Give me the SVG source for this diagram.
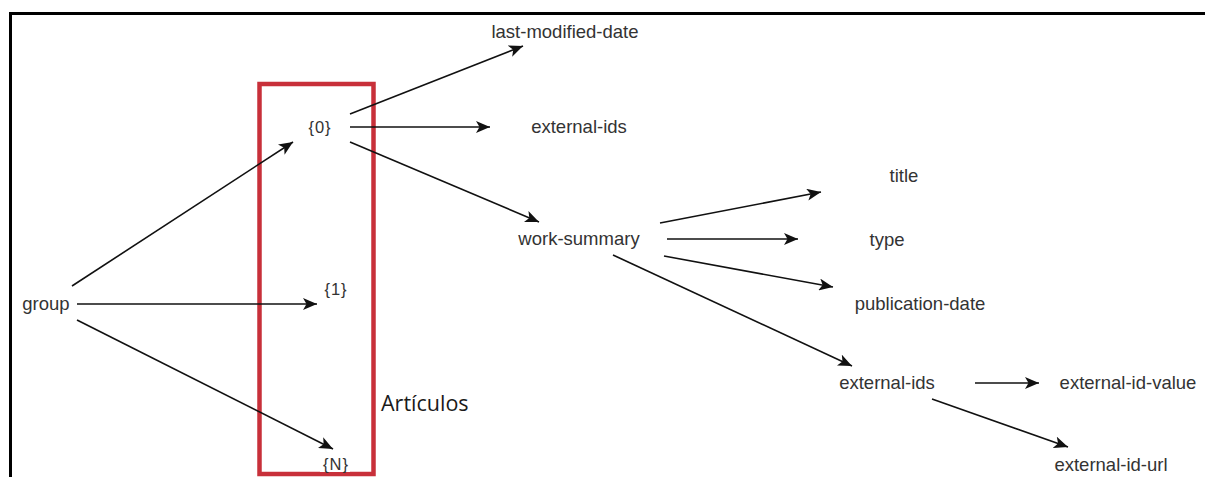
<svg xmlns="http://www.w3.org/2000/svg" width="1205" height="477" viewBox="0 0 1205 477">
<defs>
<style>
.lbl{font-family:"Liberation Sans",Arial,sans-serif;font-size:18.5px;fill:#333;text-anchor:middle}
.idx{font-family:"Liberation Sans",Arial,sans-serif;font-size:16.5px;fill:#333;text-anchor:middle;letter-spacing:1px}
.edge{stroke:#111;stroke-width:1.6;fill:none;marker-end:url(#arr)}
</style>
<marker id="arr" markerUnits="userSpaceOnUse" markerWidth="15" markerHeight="12" refX="14" refY="6" orient="auto">
<path d="M0,0 L14,6 L0,12 L3.5,6 Z" fill="#111"/>
</marker>
</defs>
<rect x="0" y="0" width="1205" height="477" fill="#fff"/>
<g id="frame">
<line x1="10.5" y1="13.5" x2="1205" y2="13.5" stroke="#000" stroke-width="3"/>
<line x1="10.5" y1="12" x2="10.5" y2="477" stroke="#000" stroke-width="3"/>
</g>
<g id="articulos-box">
<rect x="259.5" y="84" width="114" height="390" fill="none" stroke="#c8303a" stroke-width="4.5"/>
<text x="381" y="411" font-family="'Open Sans','Liberation Sans',sans-serif" font-size="21.5" fill="#1a1a1a">Artículos</text>
</g>
<g id="connectors">
<line class="edge" x1="72" y1="286" x2="293" y2="142"/>
<line class="edge" x1="77" y1="304" x2="317" y2="304"/>
<line class="edge" x1="77" y1="320" x2="333" y2="449"/>
<line class="edge" x1="350" y1="114" x2="523" y2="46"/>
<line class="edge" x1="350" y1="127" x2="490" y2="127"/>
<line class="edge" x1="350" y1="142" x2="539" y2="222"/>
<line class="edge" x1="660" y1="223" x2="821" y2="192"/>
<line class="edge" x1="667" y1="239" x2="798" y2="239"/>
<line class="edge" x1="664" y1="256" x2="833" y2="287"/>
<line class="edge" x1="613" y1="255" x2="852" y2="366"/>
<line class="edge" x1="975" y1="383" x2="1039" y2="383"/>
<line class="edge" x1="932" y1="399" x2="1068" y2="447"/>
</g>
<g id="node-group"><text class="lbl" x="46" y="310">group</text></g>
<g id="node-0"><text class="idx" x="320" y="133">{0}</text></g>
<g id="node-1"><text class="idx" x="336" y="295">{1}</text></g>
<g id="node-N"><rect x="320" y="456" width="30" height="16" fill="#fff"/><text class="idx" x="336" y="470">{N}</text></g>
<g id="node-last-modified-date"><text class="lbl" x="565" y="38">last-modified-date</text></g>
<g id="node-external-ids-top"><text class="lbl" x="579" y="133">external-ids</text></g>
<g id="node-work-summary"><text class="lbl" x="579" y="245">work-summary</text></g>
<g id="node-title"><text class="lbl" x="904" y="182">title</text></g>
<g id="node-type"><text class="lbl" x="887" y="246">type</text></g>
<g id="node-publication-date"><text class="lbl" x="920" y="310">publication-date</text></g>
<g id="node-external-ids"><text class="lbl" x="887" y="389">external-ids</text></g>
<g id="node-external-id-value"><text class="lbl" x="1128" y="389">external-id-value</text></g>
<g id="node-external-id-url"><text class="lbl" x="1111" y="471">external-id-url</text></g>
</svg>
